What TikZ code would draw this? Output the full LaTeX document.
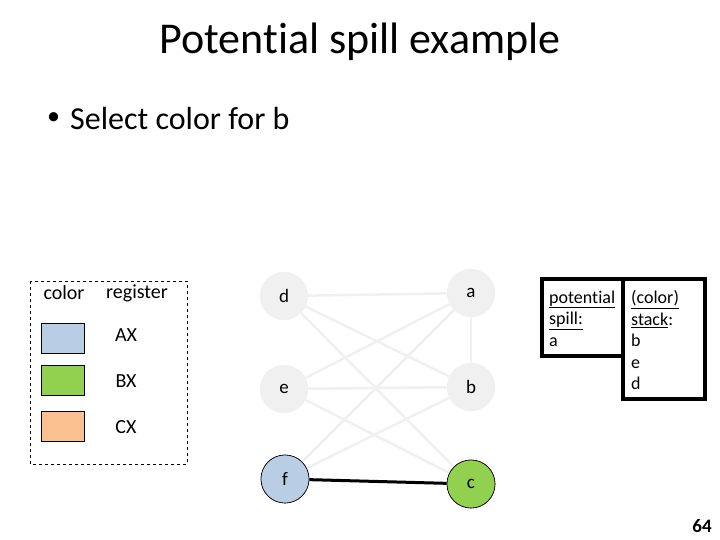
\documentclass[tikz,border=0pt]{standalone}
\usepackage{fontspec}
\setmainfont{Carlito}[RawFeature=-liga]
\usetikzlibrary{positioning}
\definecolor{faded}{HTML}{F0F0F0}
\definecolor{regblue}{HTML}{B9CDE5}
\definecolor{reggreen}{HTML}{92D050}
\definecolor{regorange}{HTML}{FAC090}
\newcommand{\ul}[1]{\underline{#1}}
\tikzset{
  vert/.style={circle, minimum size=48pt, inner sep=0pt, font=\fontsize{19}{21}\selectfont},
  fadedvert/.style={vert, fill=faded},
  fadededge/.style={draw=faded, line width=2.5pt},
  swatch/.style={draw=black, line width=0.8pt, minimum width=43pt, minimum height=30pt, inner sep=0pt},
  lbl/.style={font=\fontsize{20}{24}\selectfont, inner sep=0pt},
  listbox/.style={draw=black, line width=3.5pt, fill=white},
  listtext/.style={font=\fontsize{18}{21.5}\selectfont, align=left, anchor=north west, inner sep=0pt}
}
\begin{document}
\begin{tikzpicture}[x=1pt,y=-1pt]
\useasboundingbox (0,0) rectangle (720,540);
% title and bullet
\node[font=\fontsize{44}{52}\selectfont, inner sep=0pt] (title) at (360,42) {Potential spill example};
\node[font=\fontsize{32}{38}\selectfont, inner sep=0pt, anchor=west] (bul) at (47,119) {\fontsize{26}{30}\selectfont\textbullet};
\node[font=\fontsize{32}{38}\selectfont, anchor=west, inner sep=0pt] (bullet) at (70,119) {Select color for b};
% legend
\draw[dashed, line width=0.8pt] (30,281) rectangle (187,464);
\node[lbl] (lcolor) at (64,293) {color};
\node[lbl] (lreg) at (137,293) {register};
\node[swatch, fill=regblue] (sw1) at (62.5,338) {};
\node[swatch, fill=reggreen] (sw2) at (62.5,380.5) {};
\node[swatch, fill=regorange] (sw3) at (62.5,426) {};
\node[lbl] (ax) at (126,335) {AX};
\node[lbl] (bx) at (126,381) {BX};
\node[lbl] (cx) at (126,427) {CX};
% vertices
\node[fadedvert] (d) at (284,296) {d};
\node[fadedvert] (a) at (471,293) {a};
\node[fadedvert] (e) at (284,389) {e};
\node[fadedvert] (b) at (471,387) {b};
\node[vert, fill=regblue, draw=black, line width=0.6pt] (f) at (285,479) {f};
\node[vert, fill=reggreen, draw=black, line width=0.6pt] (c) at (471,484) {c};
% edges
\path[fadededge] (d) -- (a);
\path[fadededge] (d) -- (b);
\path[fadededge] (d) -- (c);
\path[fadededge] (e) -- (a);
\path[fadededge] (e) -- (b);
\path[fadededge] (e) -- (c);
\path[fadededge] (f) -- (a);
\path[fadededge] (f) -- (b);
\path[fadededge] (a) -- (b);
\draw[line width=3pt] (f) -- (c);
% redraw nodes on top
\node[fadedvert] at (d) {d};
\node[fadedvert] at (a) {a};
\node[fadedvert] at (e) {e};
\node[fadedvert] at (b) {b};
\node[vert, fill=regblue, draw=black, line width=0.6pt] at (f) {f};
\node[vert, fill=reggreen, draw=black, line width=0.6pt] at (c) {c};
% potential spill / stack boxes
\draw[listbox] (542,279) rectangle (623,356);
\draw[listbox] (623,279) rectangle (705,399);
\node[listtext] (spill) at (549,290.5) {\ul{potential}\\\ul{spill:}\\a};
\node[listtext] (stack) at (631,290.5) {\ul{(color)}\\\ul{stack}:\\b\\e\\d};
% page number
\node[font=\fontsize{19}{22}\selectfont\bfseries, inner sep=0pt] (pg) at (702,526) {64};
\end{tikzpicture}
\end{document}
